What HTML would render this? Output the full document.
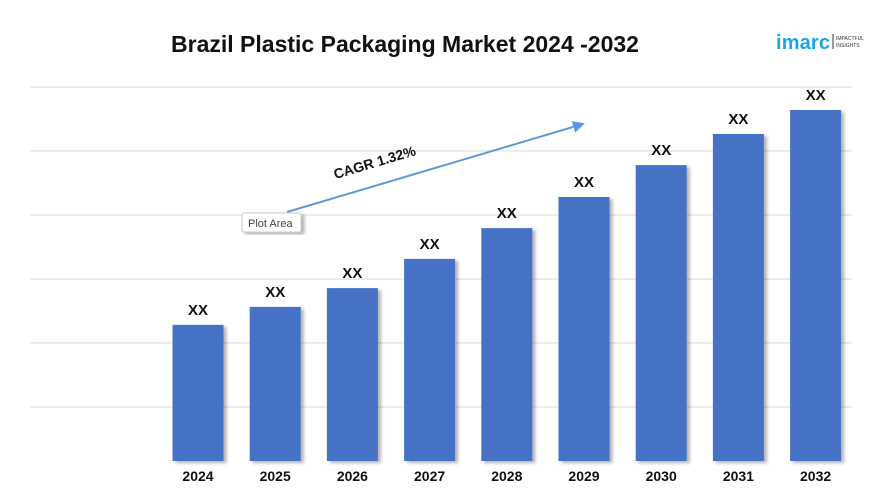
<!DOCTYPE html>
<html><head><meta charset="utf-8"><style>
body{margin:0;background:#fff;}
svg{display:block;font-family:"Liberation Sans",sans-serif;}
</style></head><body>
<svg width="877" height="493">
<defs>
<filter id="sh" x="-20%" y="-5%" width="150%" height="120%"><feDropShadow dx="3" dy="2" stdDeviation="1.5" flood-color="#000" flood-opacity="0.3"/></filter>
<marker id="ah" markerWidth="6" markerHeight="6" refX="5" refY="3" orient="auto"><path d="M0,0 L6,3 L0,6 z" fill="#5b9bd5"/></marker>
</defs>
<text x="405" y="52" text-anchor="middle" font-size="23" font-weight="bold" fill="#111">Brazil Plastic Packaging Market 2024 -2032</text>
<g>
<text x="776" y="49" font-size="20" font-weight="bold" fill="#1ea5e0" textLength="54">imarc</text>
<line x1="833" y1="34" x2="833" y2="49" stroke="#333" stroke-width="1"/>
<text x="836" y="40" font-size="5" fill="#333">IMPACTFUL</text>
<text x="836" y="47" font-size="5" fill="#333">INSIGHTS</text>
</g>
<g id="grid"></g>
<g id="bars"></g>
<line x1="287" y1="212" x2="583" y2="124" stroke="#5b9bd5" stroke-width="2" marker-end="url(#ah)"/>
<text x="376" y="167" font-size="14" font-weight="bold" fill="#111" transform="rotate(-16.6 376 167)" text-anchor="middle">CAGR 1.32%</text>
<g>
<rect x="242" y="213" width="59" height="19" rx="2" fill="#fff" stroke="#ccc" filter="url(#sh)"/>
<text x="248" y="227" font-size="11" fill="#444">Plot Area</text>
</g>
</svg>
<script>
const categories=["2024","2025","2026","2027","2028","2029","2030","2031","2032"];
const values=[36.3,41.1,46.1,53.9,62.1,70.4,78.9,87.2,93.6];
const labels=["XX","XX","XX","XX","XX","XX","XX","XX","XX"];
const gridTicks=[14.4,31.5,48.5,65.6,82.7,99.7];
const NS="http://www.w3.org/2000/svg";
const y=v=>461-v*3.75;
const x=i=>198+i*77.2;
const g=document.getElementById('grid');
gridTicks.forEach(t=>{const l=document.createElementNS(NS,'line');


l.setAttribute('x1',30);l.setAttribute('x2',852);l.setAttribute('y1',y(t));l.setAttribute('y2',y(t));
l.setAttribute('stroke','#d9d9d9');l.setAttribute('stroke-width','1');g.appendChild(l);});
const b=document.getElementById('bars');
categories.forEach((c,i)=>{
const r=document.createElementNS(NS,'rect');


r.setAttribute('x',x(i)-25.5);r.setAttribute('width',51);r.setAttribute('y',y(values[i]));r.setAttribute('height',461-y(values[i]));
r.setAttribute('fill','#4472c4');r.setAttribute('filter','url(#sh)');b.appendChild(r);
const t=document.createElementNS(NS,'text');


t.setAttribute('x',x(i));t.setAttribute('y',y(values[i])-10);t.setAttribute('text-anchor','middle');
t.setAttribute('font-size','15');t.setAttribute('font-weight','bold');t.setAttribute('fill','#111');t.textContent=labels[i];b.appendChild(t);
const a=document.createElementNS(NS,'text');


a.setAttribute('x',x(i));a.setAttribute('y',481);a.setAttribute('text-anchor','middle');
a.setAttribute('font-size','14');a.setAttribute('font-weight','bold');a.setAttribute('fill','#111');a.textContent=c;b.appendChild(a);
});
</script>
</body></html>
